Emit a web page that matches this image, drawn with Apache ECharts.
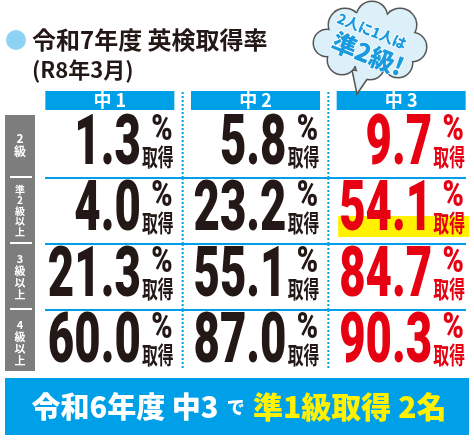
<!DOCTYPE html>
<html><head><meta charset="utf-8">
<script src="https://cdn.jsdelivr.net/npm/echarts@6/dist/echarts.min.js"></script>
<style>html,body{margin:0;padding:0;background:#fff}#c{width:474px;height:442px}</style>
</head><body><div id="c"></div>
<script>
// ---- data ----
const grades = ['中 1', '中 2', '中 3'];
const levels = ['2級', '準2級以上', '3級以上', '4級以上'];
const chu1 = [1.3, 4.0, 21.3, 60.0];
const chu2 = [5.8, 23.2, 55.1, 87.0];
const chu3 = [9.7, 54.1, 84.7, 90.3];
const highlighted = [[2, 1]];
const titleLines = ['令和7年度 英検取得率', '(R8年3月)'];
const bubbleLines = ['2人に1人は', '準2級!'];
const bannerParts = ['令和6年度 中3', 'で', '準1級取得 2名'];
const unitTop = '%';
const unitBottom = '取得';

// ---- build ----
const BLUE = '#00a0e9', RED = '#e60012', DARK = '#231815';
const JP = '"Noto Sans CJK JP","Noto Sans",sans-serif';
const NUM = 'Roboto,"Liberation Sans",sans-serif';
const cols = [chu1, chu2, chu3];
const cells = [];
cols.forEach((arr, c) => arr.forEach((v, r) => cells.push([c, r, v])));
const lastRow = levels.length - 1;

function renderItem(params, api) {
  const col = api.value(0), row = api.value(1), v = api.value(2);
  const p = api.coord([col, row]);
  const s = api.size([1, 1]);
  const cx = p[0], cy = p[1], bw = s[0], bh = s[1];
  const color = col === 2 ? RED : DARK;
  const hl = highlighted.some(h => h[0] === col && h[1] === row);
  const ch = [];
  if (hl) ch.push({type: 'rect', shape: {x: cx - 63, y: cy + 5, width: 131, height: 21}, style: {fill: '#fff100'}});
  if (col > 0) {
    ch.push({type: 'line', shape: {x1: cx - bw / 2, y1: row === 0 ? cy - bh / 2 - 20 : cy - bh / 2,
      x2: cx - bw / 2, y2: row === lastRow ? cy + bh / 2 - 6 : cy + bh / 2},
      style: {stroke: BLUE, lineWidth: 2, lineDash: [2, 2]}});
  }
  if (row > 0) {
    ch.push({type: 'line', shape: {x1: cx - bw / 2 + (col === 0 ? 8 : 0), y1: cy - bh / 2,
      x2: cx + bw / 2 - (col === 2 ? 8 : 0), y2: cy - bh / 2}, style: {stroke: BLUE, lineWidth: 2}});
    if (col === 0) ch.push({type: 'line', shape: {x1: 10, y1: cy - bh / 2 - 1, x2: 32, y2: cy - bh / 2 - 1},
      style: {stroke: '#fff', lineWidth: 2}});
  }
  ch.push({type: 'text', x: cx + 31, y: cy + 1, scaleX: 0.66, scaleY: 1.02,
    style: {text: v.toFixed(1), fill: color, font: '900 69px ' + NUM, align: 'right', verticalAlign: 'middle'}});
  ch.push({type: 'text', x: cx + 52, y: cy - 14, scaleX: 0.8,
    style: {text: unitTop, fill: color, font: '900 36px ' + NUM, align: 'center', verticalAlign: 'middle'}});
  ch.push({type: 'text', x: cx + 48, y: cy + 12, scaleX: 0.66,
    style: {text: unitBottom, fill: color, font: 'bold 24px ' + JP, align: 'center', verticalAlign: 'middle'}});
  return {type: 'group', children: ch};
}

const cloud = [[370, 40, 30], [345, 25, 16], [372, 17, 15], [400, 25, 16], [412, 47, 14], [398, 63, 14], [370, 65, 14], [342, 60, 14], [327, 43, 13]];
const graphic = [
  {type: 'rect', z: -1, shape: {x: 5, y: 115, width: 30, height: 256}, style: {fill: '#7d7d7d'}},
  {type: 'circle', shape: {cx: 16, cy: 40, r: 10}, style: {fill: '#8fd3f4'}},
  {type: 'text', x: 32, y: 40, style: {text: titleLines[0], font: 'bold 24px ' + JP, fill: DARK, verticalAlign: 'middle'}},
  {type: 'text', x: 32, y: 70, style: {text: titleLines[1], font: 'bold 22px ' + JP, fill: DARK, verticalAlign: 'middle'}},
  {type: 'rect', shape: {x: 5, y: 378, width: 464, height: 57}, style: {fill: BLUE}},
  {type: 'text', x: 239, y: 407, style: {
    text: '{w|' + bannerParts[0] + '}{s|  ' + bannerParts[1] + '  }{y|' + bannerParts[2] + '}',
    align: 'center', verticalAlign: 'middle',
    rich: {
      w: {fill: '#fff', font: '900 29px ' + JP},
      s: {fill: '#fff', font: '900 18px ' + JP},
      y: {fill: '#fff100', font: '900 30px ' + JP}
    }}}
];
cloud.forEach(c => graphic.push({type: 'circle', z: 5, shape: {cx: c[0], cy: c[1], r: c[2] + 1.5}, style: {fill: '#555'}}));
graphic.push({type: 'polygon', z: 6, shape: {points: [[352, 70], [372, 72], [357, 94]]}, style: {fill: '#dcf0fa', stroke: '#555', lineWidth: 1.5}});
cloud.forEach(c => graphic.push({type: 'circle', z: 7, shape: {cx: c[0], cy: c[1], r: c[2]}, style: {fill: '#dcf0fa'}}));
graphic.push({type: 'text', z: 8, x: 372, y: 31, rotation: -0.38, style: {text: bubbleLines[0], font: '900 14px ' + JP, fill: '#1a9be0', align: 'center', verticalAlign: 'middle', stroke: '#fff', lineWidth: 1.5}});
graphic.push({type: 'text', z: 8, x: 368, y: 54, rotation: -0.38, style: {text: bubbleLines[1], font: '900 25px ' + JP, fill: '#1a9be0', align: 'center', verticalAlign: 'middle', stroke: '#fff', lineWidth: 1.5}});

const chart = echarts.init(document.getElementById('c'));
chart.setOption({
  animation: false,
  grid: {left: 37, right: -2, top: 112, bottom: 66},
  xAxis: {
    type: 'category', data: grades, position: 'top',
    axisLine: {show: false}, axisTick: {show: false}, splitLine: {show: false},
    axisLabel: {margin: 2, color: '#fff', fontWeight: 'bold', fontSize: 18, fontFamily: JP,
      backgroundColor: BLUE, width: 129, height: 19, lineHeight: 19, align: 'center'}
  },
  yAxis: {
    type: 'category', data: levels, inverse: true, z: 5,
    axisLine: {show: false}, axisTick: {show: false}, splitLine: {show: false},
    axisLabel: {
      margin: 17, align: 'center',
      formatter: v => '{l' + v.length + '|' + v.split('').join('\n') + '}',
      rich: {
        l2: {color: '#fff', fontWeight: 'bold', fontSize: 12, lineHeight: 13, fontFamily: JP},
        l4: {color: '#fff', fontWeight: 'bold', fontSize: 11, lineHeight: 12, fontFamily: JP},
        l5: {color: '#fff', fontWeight: 'bold', fontSize: 10, lineHeight: 10.5, fontFamily: JP}
      }
    }
  },
  graphic: graphic,
  series: [{type: 'custom', renderItem: renderItem, data: cells, clip: false}]
});
</script>
</body></html>
